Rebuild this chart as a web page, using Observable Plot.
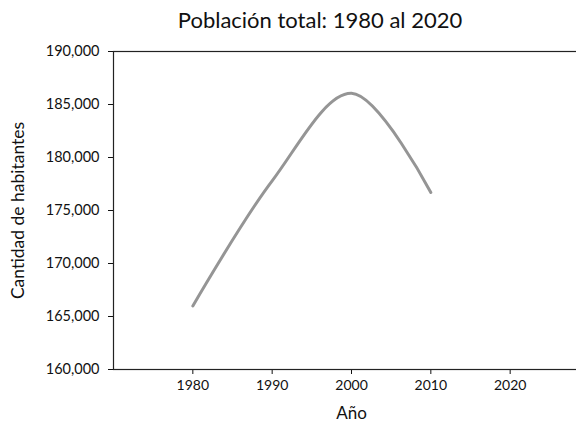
<!DOCTYPE html>
<html>
<head>
<meta charset="utf-8">
<script src="https://cdn.jsdelivr.net/npm/d3@7"></script>
<script src="https://cdn.jsdelivr.net/npm/@observablehq/plot@0.6"></script>
<style>
  html, body { margin: 0; padding: 0; background: #fff; }
  #wrap { width: 576px; height: 429px; position: relative; font-family: Lato, "Open Sans", sans-serif; }
  #title { position: absolute; left: 0; top: 6px; width: 640px; text-align: center; font-size: 22px; color: #111; }
  #chart { position: absolute; left: 0; top: 40px; }
</style>
</head>
<body>
<div id="wrap">
  <div id="title"></div>
  <div id="chart"></div>
</div>
<script>
const years = [1980, 1990, 2000, 2010];
const population = [166000, 177800, 186050, 176700];
const xTicks = [1980, 1990, 2000, 2010, 2020];
const yTicks = [160000, 165000, 170000, 175000, 180000, 185000, 190000];
const titleText = "Población total: 1980 al 2020";
const xLabel = "Año";
const yLabel = "Cantidad de habitantes";

const data = years.map((y, i) => ({year: y, pop: population[i]}));

const chart = Plot.plot({
  width: 576,
  height: 389,
  marginTop: 11,
  marginBottom: 60,
  marginLeft: 113,
  marginRight: -13,
  style: {fontFamily: "Lato, 'Open Sans', sans-serif", fontSize: "14px", color: "#111", background: "#fff"},
  x: {domain: [1970, 2030]},
  y: {domain: [160000, 190000]},
  marks: [
    Plot.axisX(xTicks, {tickFormat: d => String(d), tickSize: 5, tickPadding: 6, fontSize: 14, label: null}),
    Plot.axisY(yTicks, {tickFormat: d3.format(","), tickSize: 5, tickPadding: 9, fontSize: 14.5, label: null}),
    Plot.frame({stroke: "#222", strokeWidth: 1.2}),
    Plot.line(data, {x: "year", y: "pop", curve: "catmull-rom", stroke: "#959595", strokeWidth: 3}),
    Plot.text([yLabel], {frameAnchor: "left", textAnchor: "middle", dx: -95, rotate: -90, fontSize: 17.5, fill: "#111"}),
    Plot.text([xLabel], {frameAnchor: "bottom", dy: 49, fontSize: 17, fill: "#111"})
  ]
});
document.getElementById("chart").appendChild(chart);
document.getElementById("title").textContent = titleText;
</script>
</body>
</html>
